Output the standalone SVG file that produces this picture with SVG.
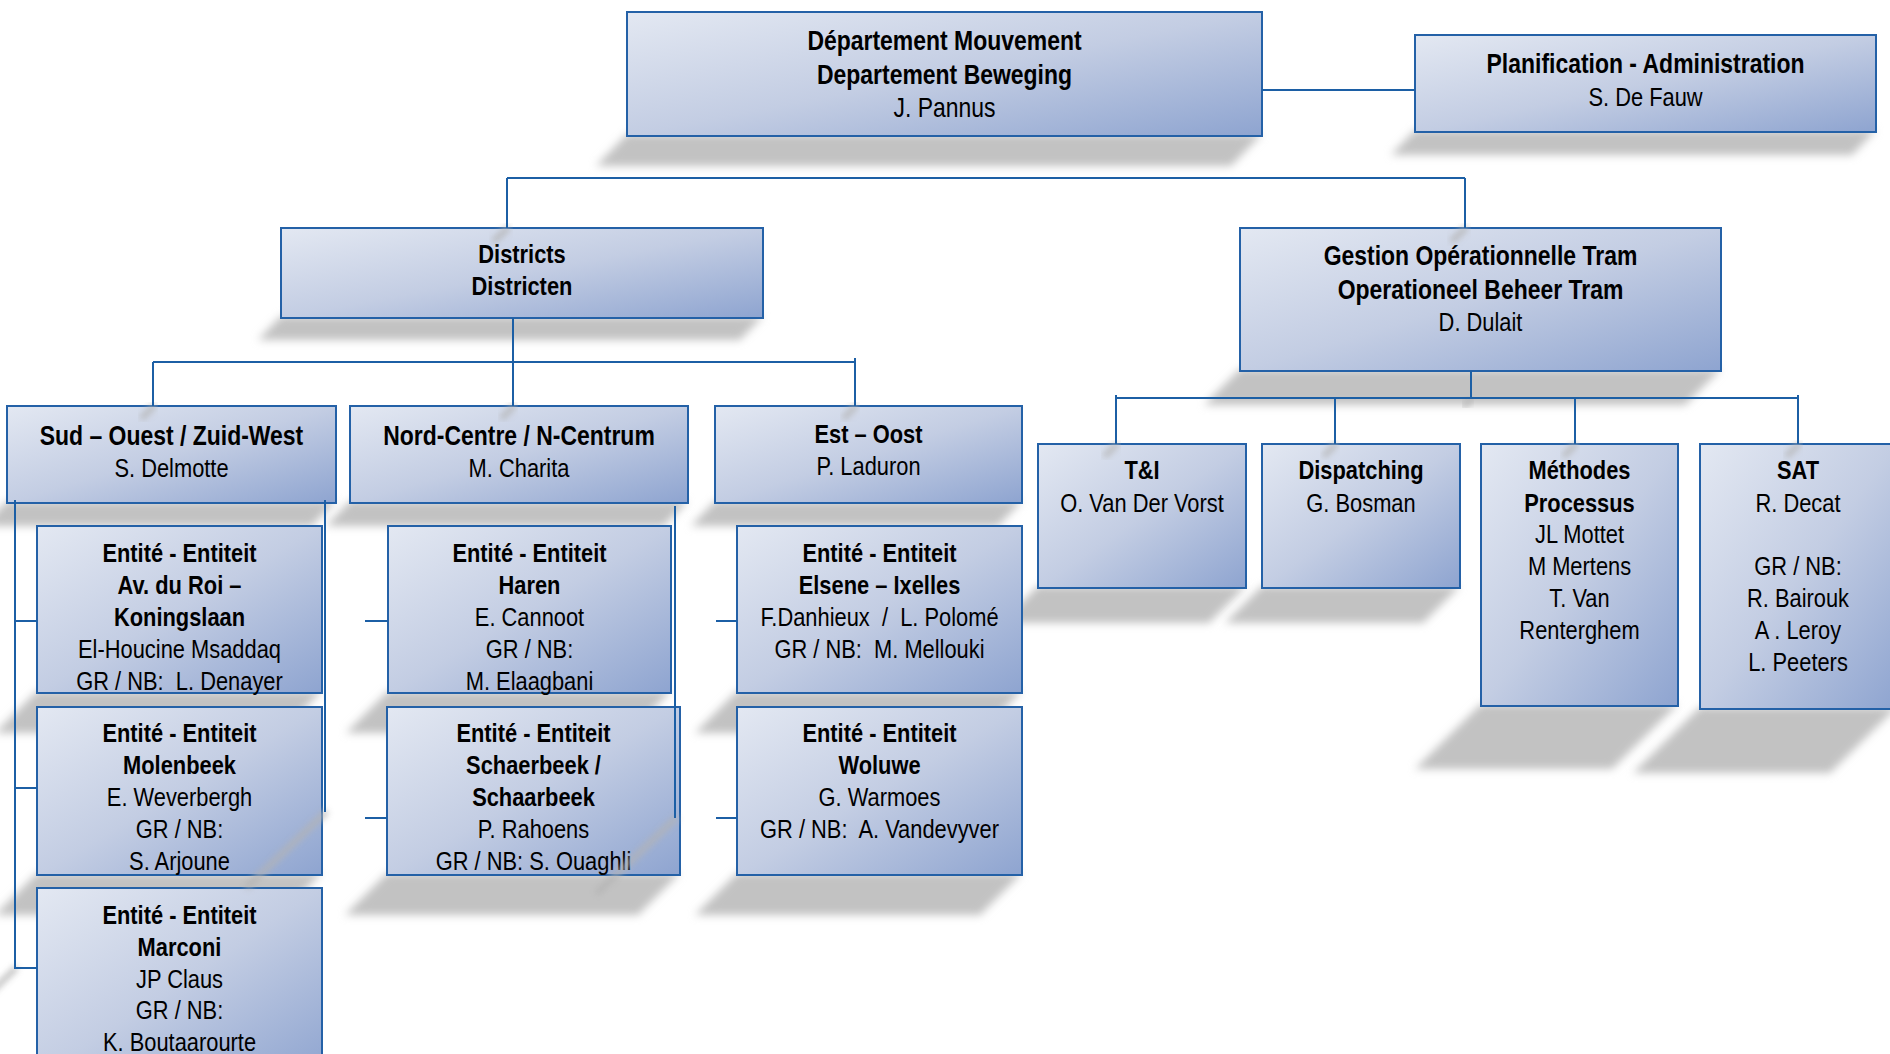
<svg xmlns="http://www.w3.org/2000/svg" width="1890" height="1054" viewBox="0 0 1890 1054">
<style>
.box{fill:url(#g);stroke:#2461a7;stroke-width:2}
.sh{fill:#c2c2c2;filter:url(#blur)}
.ln{fill:none;stroke:#1c5fa5;stroke-width:2}
.lsh{fill:none;stroke:#b4b4b4;stroke-width:6;stroke-linecap:round;filter:url(#blur2);opacity:.8}
text{font-family:'Liberation Sans Narrow','Arial Narrow','Liberation Sans',Arial,sans-serif;fill:#000;text-anchor:middle;white-space:pre}
.b{font-weight:bold}
.l{font-size:28px}
.m{font-size:26.67px}
</style>
<defs>
<linearGradient id="g" x1="0" y1="0" x2="1" y2="1">
<stop offset="0" stop-color="#e3e8f2"/>
<stop offset="0.5" stop-color="#c3cde3"/>
<stop offset="1" stop-color="#8ea4d0"/>
</linearGradient>
<filter id="blur" x="-20%" y="-50%" width="140%" height="200%"><feGaussianBlur stdDeviation="4"/></filter>
<filter id="blur2" x="-50%" y="-50%" width="200%" height="200%"><feGaussianBlur stdDeviation="3"/></filter>
</defs>
<rect width="1890" height="1054" fill="#fff"/>

<g id="shadows">
<polygon class="sh" points="627,134 1262,134 1231,166 596,166"/>
<polygon class="sh" points="1415,130 1876,130 1852,155 1391,155"/>
<polygon class="sh" points="281,316 763,316 740,340 258,340"/>
<polygon class="sh" points="1240,369 1721,369 1685,405 1204,405"/>
<polygon class="sh" points="7,501 336,501 312,526 -17,526"/>
<polygon class="sh" points="350,501 688,501 664,526 326,526"/>
<polygon class="sh" points="715,501 1022,501 998,526 691,526"/>
<polygon class="sh" points="37,691 322,691 280,733 -5,733"/>
<polygon class="sh" points="37,873 322,873 280,915 -5,915"/>
<polygon class="sh" points="388,691 671,691 629,733 346,733"/>
<polygon class="sh" points="387,873 680,873 638,915 345,915"/>
<polygon class="sh" points="737,691 1022,691 980,733 695,733"/>
<polygon class="sh" points="737,873 1022,873 980,915 695,915"/>
<polygon class="sh" points="1038,586 1246,586 1209,623 1001,623"/>
<polygon class="sh" points="1262,586 1460,586 1423,623 1225,623"/>
<polygon class="sh" points="1481,704 1678,704 1612,769 1415,769"/>
<polygon class="sh" points="1700,707 1897,707 1830,773 1633,773"/>
</g>

<g id="n-top">
<rect class="box" x="627" y="12" width="635" height="124"/>
<g transform="translate(944.5 0) scale(0.82 1)">
<text class="b l" y="50">Département Mouvement</text>
<text class="b l" y="84">Departement Beweging</text>
<text class="l" y="117">J. Pannus</text>
</g>
</g>
<g id="n-plan">
<rect class="box" x="1415" y="35" width="461" height="97"/>
<g transform="translate(1645.5 0) scale(0.82 1)">
<text class="b l" y="73">Planification - Administration</text>
<text class="m" y="106">S. De Fauw</text>
</g>
</g>
<g id="n-districts">
<rect class="box" x="281" y="228" width="482" height="90"/>
<g transform="translate(522 0) scale(0.82 1)">
<text class="b m" y="263.5">Districts</text>
<text class="b m" y="295.5">Districten</text>
</g>
</g>
<g id="n-gestion">
<rect class="box" x="1240" y="228" width="481" height="143"/>
<g transform="translate(1480.5 0) scale(0.82 1)">
<text class="b l" y="265.5">Gestion Opérationnelle Tram</text>
<text class="b l" y="299">Operationeel Beheer Tram</text>
<text class="m" y="331.5">D. Dulait</text>
</g>
</g>
<g id="n-sud">
<rect class="box" x="7" y="406" width="329" height="97"/>
<g transform="translate(171.5 0) scale(0.82 1)">
<text class="b l" y="445">Sud – Ouest / Zuid-West</text>
<text class="m" y="477">S. Delmotte</text>
</g>
</g>
<g id="n-nord">
<rect class="box" x="350" y="406" width="338" height="97"/>
<g transform="translate(519 0) scale(0.82 1)">
<text class="b l" y="445">Nord-Centre / N-Centrum</text>
<text class="m" y="477">M. Charita</text>
</g>
</g>
<g id="n-est">
<rect class="box" x="715" y="406" width="307" height="97"/>
<g transform="translate(868.5 0) scale(0.82 1)">
<text class="b m" y="443.5">Est – Oost</text>
<text class="m" y="475">P. Laduron</text>
</g>
</g>
<g id="n-avroi">
<rect class="box" x="37" y="526" width="285" height="167"/>
<g transform="translate(179.5 0) scale(0.82 1)">
<text class="b m" y="562.5">Entité - Entiteit</text>
<text class="b m" y="594.5">Av. du Roi –</text>
<text class="b m" y="626.5">Koningslaan</text>
<text class="m" y="658.5">El-Houcine Msaddaq</text>
<text class="m" y="690.5">GR / NB:  L. Denayer</text>
</g>
</g>
<g id="n-molenbeek">
<rect class="box" x="37" y="707" width="285" height="168"/>
<g transform="translate(179.5 0) scale(0.82 1)">
<text class="b m" y="742.5">Entité - Entiteit</text>
<text class="b m" y="774.5">Molenbeek</text>
<text class="m" y="806.5">E. Weverbergh</text>
<text class="m" y="838.5">GR / NB:</text>
<text class="m" y="870.5">S. Arjoune</text>
</g>
</g>
<g id="n-marconi">
<rect class="box" x="37" y="888" width="285" height="190"/>
<g transform="translate(179.5 0) scale(0.82 1)">
<text class="b m" y="924.5">Entité - Entiteit</text>
<text class="b m" y="956.5">Marconi</text>
<text class="m" y="988.5">JP Claus</text>
<text class="m" y="1019.5">GR / NB:</text>
<text class="m" y="1051.5">K. Boutaarourte</text>
</g>
</g>
<g id="n-haren">
<rect class="box" x="388" y="526" width="283" height="167"/>
<g transform="translate(529.5 0) scale(0.82 1)">
<text class="b m" y="562.5">Entité - Entiteit</text>
<text class="b m" y="594.5">Haren</text>
<text class="m" y="626.5">E. Cannoot</text>
<text class="m" y="658.5">GR / NB:</text>
<text class="m" y="690.5">M. Elaagbani</text>
</g>
</g>
<g id="n-schaerbeek">
<rect class="box" x="387" y="707" width="293" height="168"/>
<g transform="translate(533.5 0) scale(0.82 1)">
<text class="b m" y="742.5">Entité - Entiteit</text>
<text class="b m" y="774.5">Schaerbeek /</text>
<text class="b m" y="806.5">Schaarbeek</text>
<text class="m" y="838.5">P. Rahoens</text>
<text class="m" y="870.5">GR / NB: S. Ouaghli</text>
</g>
</g>
<g id="n-elsene">
<rect class="box" x="737" y="526" width="285" height="167"/>
<g transform="translate(879.5 0) scale(0.82 1)">
<text class="b m" y="562.5">Entité - Entiteit</text>
<text class="b m" y="594.5">Elsene – Ixelles</text>
<text class="m" y="626.5">F.Danhieux  /  L. Polomé</text>
<text class="m" y="658.5">GR / NB:  M. Mellouki</text>
</g>
</g>
<g id="n-woluwe">
<rect class="box" x="737" y="707" width="285" height="168"/>
<g transform="translate(879.5 0) scale(0.82 1)">
<text class="b m" y="742.5">Entité - Entiteit</text>
<text class="b m" y="774.5">Woluwe</text>
<text class="m" y="806.5">G. Warmoes</text>
<text class="m" y="838.5">GR / NB:  A. Vandevyver</text>
</g>
</g>
<g id="n-ti">
<rect class="box" x="1038" y="444" width="208" height="144"/>
<g transform="translate(1142 0) scale(0.82 1)">
<text class="b m" y="479.5">T&amp;I</text>
<text class="m" y="512.5">O. Van Der Vorst</text>
</g>
</g>
<g id="n-dispatching">
<rect class="box" x="1262" y="444" width="198" height="144"/>
<g transform="translate(1361 0) scale(0.82 1)">
<text class="b m" y="479.5">Dispatching</text>
<text class="m" y="512.5">G. Bosman</text>
</g>
</g>
<g id="n-methodes">
<rect class="box" x="1481" y="444" width="197" height="262"/>
<g transform="translate(1579.5 0) scale(0.82 1)">
<text class="b m" y="479.5">Méthodes</text>
<text class="b m" y="512.5">Processus</text>
<text class="m" y="543.5">JL Mottet</text>
<text class="m" y="575.5">M Mertens</text>
<text class="m" y="607.5">T. Van</text>
<text class="m" y="639.5">Renterghem</text>
</g>
</g>
<g id="n-sat">
<rect class="box" x="1700" y="444" width="197" height="265"/>
<g transform="translate(1798 0) scale(0.82 1)">
<text class="b m" y="479.5">SAT</text>
<text class="m" y="512.5">R. Decat</text>
<text class="m" y="575.5">GR / NB:</text>
<text class="m" y="607.5">R. Bairouk</text>
<text class="m" y="639.5">A . Leroy</text>
<text class="m" y="671.5">L. Peeters</text>
</g>
</g>

<g id="connectors">
<g id="connector-shadows">
<path class="lsh" d="M507,229 L495,240"/>
<path class="lsh" d="M1465,229 L1453,240"/>
<path class="lsh" d="M153,407 L143,417"/>
<path class="lsh" d="M513,407 L503,417"/>
<path class="lsh" d="M855,407 L845,417"/>
<path class="lsh" d="M1471,399 L1465,405"/>
<path class="lsh" d="M1116,445 L1106,455"/>
<path class="lsh" d="M1335,445 L1325,455"/>
<path class="lsh" d="M1575,445 L1565,455"/>
<path class="lsh" d="M1798,445 L1788,455"/>
<path class="lsh" d="M325,813 L248,886"/>
<path class="lsh" d="M675,819 L598,892"/>
<path class="lsh" d="M15,969 L-95,1075"/>
</g>
<path class="ln" d="M1262,90 H1415"/>
<path class="ln" d="M507,178 H1465"/>
<path class="ln" d="M507,178 V228"/>
<path class="ln" d="M1465,178 V228"/>
<path class="ln" d="M513,318 V406"/>
<path class="ln" d="M153,362 H855"/>
<path class="ln" d="M153,362 V406"/>
<path class="ln" d="M855,358 V406"/>
<path class="ln" d="M1471,371 V398"/>
<path class="ln" d="M1115,398 H1798"/>
<path class="ln" d="M1116,395 V444"/>
<path class="ln" d="M1335,398 V444"/>
<path class="ln" d="M1575,398 V444"/>
<path class="ln" d="M1798,395 V444"/>
<path class="ln" d="M15,500 V968 H37"/>
<path class="ln" d="M15,621 H37"/>
<path class="ln" d="M15,788 H37"/>
<path class="ln" d="M325,500 V812"/>
<path class="ln" d="M365,621 H388"/>
<path class="ln" d="M365,818 H387"/>
<path class="ln" d="M675,506 V818"/>
<path class="ln" d="M716,621 H737"/>
<path class="ln" d="M716,818 H737"/>
</g>
</svg>
